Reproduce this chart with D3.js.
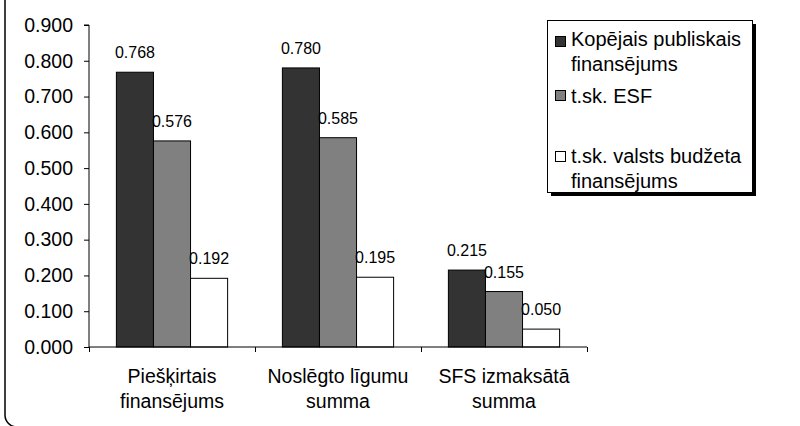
<!DOCTYPE html>
<html>
<head>
<meta charset="utf-8">
<script src="https://cdn.jsdelivr.net/npm/d3@7"></script>
<style>
  body { margin: 0; background: #fff; }
  svg { display: block; font-family: "Liberation Sans", Arial, sans-serif; }
</style>
</head>
<body>
<svg width="800" height="426"></svg>
<script>
var categories = [["Piešķirtais", "finansējums"], ["Noslēgto līgumu", "summa"], ["SFS izmaksātā", "summa"]];
var seriesNames = [["Kopējais publiskais", "finansējums"], ["t.sk. ESF"], ["t.sk. valsts budžeta", "finansējums"]];
var kopejais = [0.768, 0.780, 0.215];
var esf = [0.576, 0.585, 0.155];
var budzets = [0.192, 0.195, 0.050];
var yTicks = [0, 0.1, 0.2, 0.3, 0.4, 0.5, 0.6, 0.7, 0.8, 0.9];

var colors = ["#333333", "#808080", "#ffffff"];
var series = [kopejais, esf, budzets];

var svg = d3.select("svg");

// outer frame (only left edge and bottom-left corner visible)
svg.append("rect")
    .attr("x", 5).attr("y", -30)
    .attr("width", 1000).attr("height", 457)
    .attr("rx", 12)
    .attr("fill", "none")
    .attr("stroke", "#000")
    .attr("stroke-width", 1.5);

var x0 = d3.scaleBand()
    .domain(d3.range(categories.length))
    .range([89, 587])
    .paddingInner(0.33)
    .paddingOuter(0.165);

var x1 = d3.scaleBand()
    .domain(d3.range(series.length))
    .range([0, x0.bandwidth()]);

var y = d3.scaleLinear().domain([0, 0.9]).range([347, 25]);

// y axis
var yAxis = svg.append("g")
    .attr("transform", "translate(89,0)")
    .call(d3.axisLeft(y).tickValues(yTicks).tickFormat(d3.format(".3f")).tickSize(5).tickPadding(11));
yAxis.select(".domain").attr("d", "M-5," + y(0.9) + "H0V" + y(0));
yAxis.selectAll("text").style("font-size", "19.5px").attr("fill", "#000");

// bars
var groups = svg.selectAll(".grp")
    .data(categories)
    .enter().append("g")
    .attr("class", "grp")
    .attr("transform", function(d, i) { return "translate(" + x0(i) + ",0)"; });

series.forEach(function(s, si) {
  groups.append("rect")
      .attr("x", x1(si))
      .attr("y", function(d, i) { return y(s[i]); })
      .attr("width", x1.bandwidth())
      .attr("height", function(d, i) { return y(0) - y(s[i]); })
      .attr("fill", colors[si])
      .attr("stroke", "#000")
      .attr("stroke-width", 1);
  groups.append("text")
      .attr("x", x1(si) + x1.bandwidth() / 2)
      .attr("y", function(d, i) { return y(s[i]) - 14; })
      .attr("text-anchor", "middle")
      .style("font-size", "16px")
      .text(function(d, i) { return s[i].toFixed(3); });
});

// x axis
var xScale = d3.scaleLinear().domain([0, 3]).range([89, 587]);
var xAxis = svg.append("g")
    .attr("transform", "translate(0," + y(0) + ")")
    .call(d3.axisBottom(xScale).tickValues([0, 1, 2, 3]).tickFormat("").tickSize(5));
xAxis.select(".domain").attr("d", "M89,0H587");

categories.forEach(function(c, i) {
  var t = svg.append("text")
      .attr("text-anchor", "middle")
      .style("font-size", "19.5px");
  c.forEach(function(line, li) {
    t.append("tspan")
        .attr("x", x0(i) + x0.bandwidth() / 2)
        .attr("y", 383 + li * 25)
        .text(line);
  });
});

// legend
var legend = svg.append("g");
legend.append("rect")
    .attr("x", 551).attr("y", 24).attr("width", 205).attr("height", 172)
    .attr("fill", "#000");
legend.append("rect")
    .attr("x", 547.5).attr("y", 20.5).attr("width", 205).attr("height", 172)
    .attr("fill", "#fff").attr("stroke", "#000");

var legendY = [[46, 71], [103], [163, 188]];
var squareY = [36, 90, 151];
seriesNames.forEach(function(n, i) {
  legend.append("rect")
      .attr("x", 555.5).attr("y", squareY[i] + 0.5)
      .attr("width", 10).attr("height", 10)
      .attr("fill", colors[i]).attr("stroke", "#000");
  var t = legend.append("text").style("font-size", "20px");
  n.forEach(function(line, li) {
    t.append("tspan").attr("x", 571).attr("y", legendY[i][li]).text(line);
  });
});
</script>
</body>
</html>
